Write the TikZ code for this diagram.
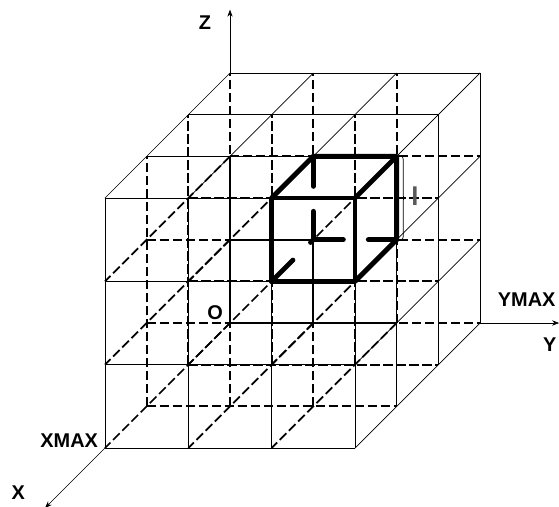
\documentclass[tikz,border=0pt]{standalone}
\usepackage{fontspec}
\setmainfont{Liberation Sans}
\usetikzlibrary{arrows.meta,decorations.pathreplacing}

\begin{document}
\begin{tikzpicture}[x={(-1.25cm,-1.25cm)}, y={(2.5cm,0cm)}, z={(0cm,2.5cm)},
  >={Stealth[length=6pt,width=4.5pt]},
  face/.style={line width=0.6pt},
  hidden/.style={line width=1.5pt, dash pattern=on 0.28cm off 0.11cm},
  cell/.style={line width=4.2pt, line join=round},
  cellhidden/.style={line width=4.2pt, line cap=round, dash pattern=on 0.9cm off 0.75cm},
  lbl/.style={font=\fontsize{17}{20}\selectfont\bfseries}]
  \useasboundingbox (-6.9cm,-5.49cm) rectangle (9.87cm,9.69cm);
  % hidden lattice lines
  \foreach \a in {0,1,2} \foreach \b in {0,1,2} {
    \draw[hidden] (\a,0,\b) -- (\a,3,\b);
    \draw[hidden] (\a,\b,0) -- (\a,\b,3);
    \draw[hidden] (0,\a,\b) -- (3,\a,\b);
  }
  % visible faces: front, top, right
  \foreach \a in {0,...,3} {
    \draw[face] (3,0,\a) -- (3,3,\a);
    \draw[face] (3,\a,0) -- (3,\a,3);
    \draw[face] (\a,0,3) -- (\a,3,3);
    \draw[face] (0,\a,3) -- (3,\a,3);
    \draw[face] (0,3,\a) -- (3,3,\a);
    \draw[face] (\a,3,0) -- (\a,3,3);
  }
  % axes
  \coordinate (O) at (0,0,0);
  \coordinate (xmax) at (3,0,0);
  \coordinate (ymax) at (0,3,0);
  \coordinate (zmax) at (0,0,3);
  \draw[face,->] (zmax) -- (0,0,3.76);
  \draw[face,->] (ymax) -- (0,3.95,0);
  \draw[face,->] (xmax) -- (4.44,0,0);
  \node[lbl] (zlbl) at (0,-0.3,3.6) {Z};
  \node[lbl] (ymaxlbl) at (0,3.56,0.28) {YMAX};
  \node[lbl,anchor=east,inner sep=0pt] (ylbl) at (0,3.92,-0.26) {Y};
  \node[lbl] (xmaxlbl) at (2.82,-0.52,0) {XMAX};
  \node[lbl] (xlbl) at (4.08,-0.5,0) {X};
  \node[lbl] (olbl) at (0,-0.18,0.13) {O};
  % highlighted cell
  \draw[white,line width=3pt] (0,1,2) -- (0,1,1) -- (0,2,1);
  \draw[white,line width=3pt] (1,1,1) -- (0,1,1);
  \draw[cellhidden] (0,1,2) -- (0,1,1);
  \draw[cellhidden] (0,1,1) -- (0,2,1);
  \draw[cellhidden] (1,1,1) -- (0,1,1);
  \draw[cell] (1,1,1) -- (1,2,1) -- (1,2,2) -- (1,1,2) -- cycle;
  \draw[cell] (1,1,2) -- (0,1,2) -- (0,2,2) -- (1,2,2);
  \draw[cell] (0,2,2) -- (0,2,1) -- (1,2,1);
  % edge length
  \draw[line width=0.6pt,decorate,decoration={brace,amplitude=0.09cm,raise=0.15cm}]
    (0,2,2) -- (0,2,1);
  \node[font=\fontsize{22}{24}\selectfont\bfseries,text=black!65] (lenlbl) at (0,2.22,1.52) {l};
\end{tikzpicture}
\end{document}
